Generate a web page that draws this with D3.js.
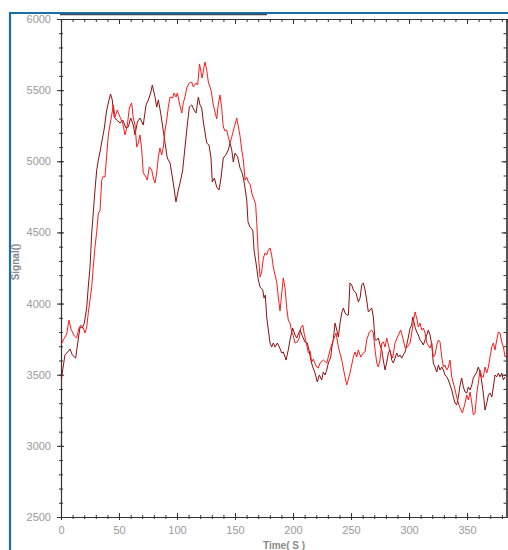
<!DOCTYPE html>
<html><head><meta charset="utf-8">
<script src="https://cdn.jsdelivr.net/npm/d3@7"></script>
<style>body{margin:0;background:#fff;}svg{display:block;}</style>
</head><body>
<svg id="c" width="508" height="550"></svg>
<script>
const xMajorTicks = [0, 50, 100, 150, 200, 250, 300, 350];
const yMajorTicks = [2500, 3000, 3500, 4000, 4500, 5000, 5500, 6000];
const xTitle = "Time( S )";
const yTitle = "Signal()";

const seriesDark = [[0,3442],[1.1,3512],[3.4,3639],[5.8,3660],[7.8,3681],[9.7,3639],[12.7,3617],[14.4,3723],[16.4,3835],[18.4,3828],[20.1,3863],[22.2,3976],[23.5,4116],[25,4257],[26.5,4496],[27.8,4637],[29.3,4798],[30.8,4939],[32.2,5009],[33.6,5065],[35.1,5135],[37.1,5220],[39.4,5360],[41.4,5431],[42.7,5473],[44.2,5431],[45.1,5360],[45.9,5311],[48,5290],[50.9,5269],[53.2,5290],[56,5234],[58,5241],[60.1,5304],[62.3,5255],[63.8,5185],[65.8,5276],[68.1,5304],[70.9,5255],[73.3,5396],[75.3,5431],[77.3,5480],[78.7,5536],[81,5452],[82.5,5381],[83.9,5431],[85.9,5339],[87.7,5241],[89.7,5128],[91.6,5023],[94,4988],[95.4,4918],[96.8,4847],[99.1,4714],[101.1,4798],[102.6,4847],[104.9,4939],[106.9,5100],[108.4,5220],[110.6,5381],[112.7,5396],[114.7,5360],[116.4,5339],[118.4,5452],[119.8,5396],[121.3,5374],[122.7,5276],[125.6,5128],[127.6,5114],[129.3,5023],[130.4,4854],[132.2,4882],[134.2,4819],[136.2,4798],[137.9,4882],[139.9,5023],[142,5044],[144.2,5079],[145.7,5128],[147.2,5079],[148.5,4995],[150,5058],[152.3,5030],[154.3,4953],[155.8,4925],[157.2,4882],[158.6,4812],[160.1,4728],[161.2,4573],[162.9,4538],[165.3,4517],[166.4,4376],[168.1,4285],[170.1,4166],[171.6,4116],[173.9,4095],[175,4039],[176.1,4060],[177.3,3906],[178.7,3814],[180.2,3723],[181.6,3695],[183,3723],[184.5,3695],[186.5,3723],[188.2,3695],[190.3,3653],[191.6,3660],[194,3603],[195.9,3674],[197.4,3744],[199.7,3828],[201.7,3779],[203.2,3758],[206,3814],[208.4,3765],[210.3,3730],[212.3,3723],[214.1,3660],[215.3,3603],[217,3554],[219,3512],[220.9,3449],[222.7,3498],[224.7,3463],[226.1,3519],[227.6,3498],[229.1,3533],[230.4,3582],[232.5,3624],[233.4,3688],[234.7,3744],[236.2,3863],[237.7,3814],[239.1,3765],[240.5,3863],[242,3934],[243.4,3969],[244.8,3934],[246.3,3920],[247.7,3920],[249.1,4145],[250.6,4131],[252,4095],[254.3,4074],[256.3,4011],[257.8,4039],[259.2,4131],[260.6,4145],[262.1,4095],[263.5,4025],[264.9,3941],[266.4,3955],[267.8,3969],[269.2,3906],[270.7,3744],[272.2,3744],[273.5,3758],[275,3709],[276.5,3674],[277.8,3603],[279.3,3533],[280.8,3589],[282.2,3653],[283.6,3674],[285.1,3603],[286.5,3582],[287.9,3617],[289.4,3653],[290.8,3624],[292.2,3639],[293.7,3617],[295.1,3639],[296.6,3660],[298,3709],[299.4,3765],[300.9,3828],[302.3,3849],[303.2,3906],[305.2,3835],[306.6,3800],[308,3779],[309.5,3744],[310.9,3730],[312.3,3709],[313.8,3744],[315.3,3779],[316.6,3814],[318.1,3779],[319.6,3709],[320.9,3582],[322.4,3554],[323.9,3519],[325.3,3568],[326.7,3533],[328.2,3554],[329.6,3533],[331,3498],[332.5,3485],[333.9,3463],[335.3,3428],[336.8,3393],[338.2,3343],[339.7,3301],[341.1,3287],[342.5,3343],[344,3428],[345.4,3477],[346.8,3414],[348.3,3378],[349.7,3371],[351.1,3414],[352.6,3393],[354.1,3428],[355.4,3477],[356.9,3498],[358.4,3519],[359.7,3554],[361.2,3519],[362.7,3449],[364,3371],[365.5,3252],[367,3301],[368.4,3357],[369.8,3371],[371.3,3343],[372.7,3414],[374.1,3498],[375.6,3485],[377,3512],[378.4,3485],[379.9,3512],[381.3,3463],[382.8,3485]];

const seriesRed = [[0,3709],[2,3744],[4.9,3786],[6.9,3884],[8.6,3821],[11.5,3772],[13.5,3758],[15.5,3828],[17.2,3849],[19.2,3828],[20.7,3793],[22.2,3835],[23.5,3934],[25,4025],[26.5,4116],[27.8,4257],[29.3,4398],[30.8,4503],[32.2,4637],[33.6,4651],[35.1,4868],[36.5,4896],[37.9,4889],[39.4,5044],[40.8,5185],[42.2,5255],[43.7,5325],[45.1,5396],[46.6,5311],[48.5,5360],[50.9,5311],[53.2,5269],[55.2,5185],[57.2,5255],[58.9,5374],[60.9,5410],[62.3,5304],[63.8,5255],[65.3,5100],[66.6,5128],[68.1,5185],[69.6,5079],[70.9,4918],[73.3,4889],[74.4,4868],[76.1,4960],[78.2,4939],[79.6,4882],[81,4847],[82.5,4918],[83.9,5030],[85.3,5093],[86.8,5044],[88.2,5100],[89.7,5220],[91.1,5290],[92.5,5381],[94,5452],[96.3,5445],[97.4,5480],[99.1,5452],[100.3,5480],[102,5410],[104.1,5339],[105.4,5410],[106.9,5452],[108.4,5515],[110.6,5550],[112.7,5557],[114.1,5522],[116.4,5550],[117.8,5536],[119.4,5684],[121.6,5585],[124.1,5698],[125.6,5642],[127,5557],[129.3,5501],[131.3,5396],[132.8,5346],[134.2,5297],[135.6,5403],[137.1,5466],[138.5,5374],[139.9,5241],[141.4,5213],[142.8,5220],[144.2,5171],[145.7,5128],[147.2,5171],[149.4,5241],[151.5,5304],[152.8,5248],[154.3,5178],[155.8,5079],[157.2,5009],[158.6,4868],[160.1,4889],[161.5,4854],[162.9,4840],[164.9,4763],[166.6,4728],[167.8,4693],[168.7,4573],[170.1,4341],[171.6,4187],[173,4222],[174.4,4320],[175.9,4355],[177.3,4341],[178.7,4376],[180.2,4391],[181.6,4341],[183,4257],[184.5,4201],[185.9,4152],[187.3,4046],[188.8,3948],[190.3,4074],[191.6,4180],[193.1,4109],[194.6,3969],[195.9,3884],[197.4,3863],[198.9,3800],[200.3,3772],[201.7,3723],[203.7,3730],[205.4,3758],[206.6,3828],[208.4,3849],[209.5,3793],[211.8,3709],[213.2,3653],[214.7,3667],[216.1,3589],[217.5,3610],[219.8,3561],[221.8,3547],[223.3,3582],[226.1,3603],[229.1,3582],[231.9,3674],[234.7,3744],[237.1,3793],[239.1,3695],[242,3603],[244.8,3484],[246.3,3428],[249.1,3512],[252,3624],[253.4,3660],[254.9,3624],[256.3,3674],[258.4,3624],[260.6,3653],[262.1,3660],[263.5,3744],[265.8,3800],[267.8,3814],[269.2,3793],[270.7,3674],[272.2,3582],[273.5,3554],[275,3603],[276.5,3723],[277.8,3730],[279.3,3695],[280.8,3758],[282.2,3709],[283.6,3660],[285.9,3617],[287.9,3723],[290.8,3779],[292.8,3814],[295.1,3744],[296.6,3688],[298.5,3695],[300.9,3723],[302.3,3793],[303.7,3870],[305.2,3941],[306.6,3898],[308,3835],[309.5,3863],[310.9,3814],[312.3,3828],[313.8,3793],[315.3,3723],[318.1,3688],[319.6,3723],[320.9,3624],[322.4,3639],[323.9,3709],[325.3,3744],[326.7,3730],[328.2,3624],[329.6,3554],[331,3568],[332.5,3533],[333.9,3554],[335.3,3603],[336.8,3484],[338.2,3442],[339.7,3393],[341.1,3343],[342.5,3301],[344,3266],[346,3231],[348.3,3301],[349.7,3357],[351.1,3322],[352.6,3378],[354.1,3301],[355.4,3217],[356.9,3231],[358.4,3371],[359.7,3442],[361.2,3533],[362.7,3484],[364,3484],[365.5,3554],[367,3512],[368.4,3554],[369.8,3624],[371.3,3695],[372.7,3723],[374.1,3674],[375.6,3744],[377,3800],[378.4,3793],[379.9,3730],[381.3,3695],[382.8,3624],[384.2,3639]];

const svg = d3.select("#c");
const L = 61, R = 506.5, T = 19, B = 517;
const x = d3.scaleLinear().domain([0, 384]).range([L, R]);
const y = d3.scaleLinear().domain([2500, 6000]).range([B, T]);

const axisColor = "#333";
const labelColor = "#9a9a9a";
const font = "'Liberation Sans', Arial, sans-serif";

// frame decorations
svg.append("line").attr("x1", 10).attr("x2", 10).attr("y1", 12).attr("y2", 550)
  .attr("stroke", "#1c6ea4").attr("stroke-width", 2.2);
svg.append("line").attr("x1", 9).attr("x2", 508).attr("y1", 13).attr("y2", 13)
  .attr("stroke", "#1c6ea4").attr("stroke-width", 2.2);
svg.append("line").attr("x1", 60).attr("x2", 267).attr("y1", 14.5).attr("y2", 14.5)
  .attr("stroke", "#3a4a5a").attr("stroke-width", 1.6);

const xMinor = d3.range(0, 381, 10);
const yMinor = d3.range(2500, 6001, 100);

function styleAxis(g) {
  g.select(".domain").attr("stroke", axisColor).attr("stroke-width", 1.2);
  g.selectAll(".tick line").attr("stroke", axisColor).attr("stroke-width", 1);
  g.selectAll("text").attr("fill", labelColor).attr("font-family", font).attr("font-size", 11);
}

// bottom axis
const gxMinor = svg.append("g").attr("transform", `translate(0,${B})`)
  .call(d3.axisBottom(x).tickValues(xMinor).tickSize(2).tickFormat(""));
styleAxis(gxMinor);
gxMinor.selectAll(".tick line").attr("y1", -2);
gxMinor.select(".domain").remove();
const gx = svg.append("g").attr("transform", `translate(0,${B})`)
  .call(d3.axisBottom(x).tickValues(xMajorTicks).tickSize(3).tickSizeOuter(0).tickPadding(6).tickFormat(d3.format("d")));
styleAxis(gx);
gx.selectAll(".tick line").attr("y1", -4);

// top axis
const gtMinor = svg.append("g").attr("transform", `translate(0,${T})`)
  .call(d3.axisTop(x).tickValues(xMinor).tickSize(-3).tickFormat(""));
styleAxis(gtMinor);
const gt = svg.append("g").attr("transform", `translate(0,${T})`)
  .call(d3.axisTop(x).tickValues(xMajorTicks).tickSize(-5).tickSizeOuter(0).tickFormat(""));
styleAxis(gt);

// left axis
const gyMinor = svg.append("g").attr("transform", `translate(${L},0)`)
  .call(d3.axisLeft(y).tickValues(yMinor).tickSize(2).tickFormat(""));
styleAxis(gyMinor);
gyMinor.selectAll(".tick line").attr("x1", 2);
gyMinor.select(".domain").remove();
const gy = svg.append("g").attr("transform", `translate(${L},0)`)
  .call(d3.axisLeft(y).tickValues(yMajorTicks).tickSize(4).tickSizeOuter(0).tickPadding(6).tickFormat(d3.format("d")));
styleAxis(gy);
gy.selectAll(".tick line").attr("x1", 3);

// right axis
const grMinor = svg.append("g").attr("transform", `translate(${R},0)`)
  .call(d3.axisRight(y).tickValues(yMinor).tickSize(-3).tickFormat(""));
styleAxis(grMinor);
const gr = svg.append("g").attr("transform", `translate(${R},0)`)
  .call(d3.axisRight(y).tickValues(yMajorTicks).tickSize(-5).tickSizeOuter(0).tickFormat(""));
styleAxis(gr);

// clip
svg.append("clipPath").attr("id", "clip").append("rect")
  .attr("x", L).attr("y", T).attr("width", R - L).attr("height", B - T);

const line = d3.line().x(d => x(d[0])).y(d => y(d[1]));
const plot = svg.append("g").attr("clip-path", "url(#clip)");
plot.append("path").datum(seriesDark).attr("d", line)
  .attr("fill", "none").attr("stroke", "#8e1010").attr("stroke-width", 1).attr("stroke-linejoin", "round");
plot.append("path").datum(seriesRed).attr("d", line)
  .attr("fill", "none").attr("stroke", "#ff1a1a").attr("stroke-width", 1).attr("stroke-linejoin", "round");

// titles
svg.append("text").attr("x", 284).attr("y", 549).attr("text-anchor", "middle")
  .attr("font-family", font).attr("font-size", 10).attr("font-weight", "bold").attr("fill", "#8a8a8a")
  .text(xTitle);
svg.append("text").attr("transform", "translate(19,262) rotate(-90)").attr("text-anchor", "middle")
  .attr("font-family", font).attr("font-size", 10).attr("font-weight", "bold").attr("fill", "#8a8a8a")
  .text(yTitle);
</script>
</body></html>
